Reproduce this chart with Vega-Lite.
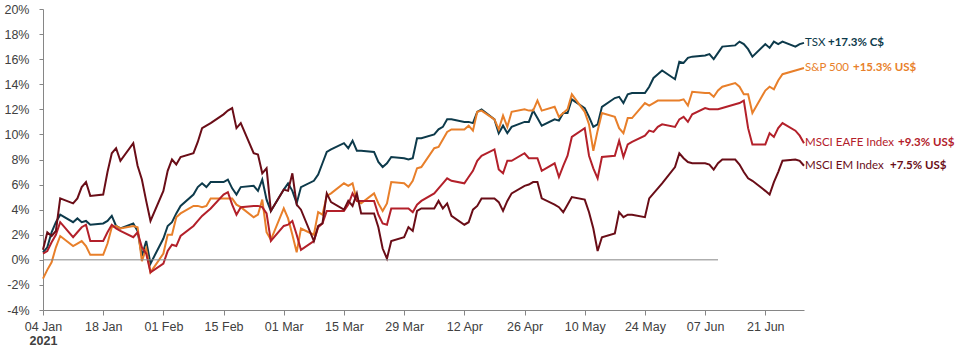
{
 "$schema": "https://vega.github.io/schema/vega-lite/v6.json",
 "width": 761, "height": 301,
 "autosize": {"type": "none"},
 "padding": {"left": 43, "top": 9, "right": 151, "bottom": 43},
 "background": "white",
 "config": {"view": {"stroke": null}, "font": "Liberation Sans", "axis": {"labelOverlap": false, "labelSeparation": 0}},
 "datasets": {
  "main": [
   {"d":"2021/01/04","T":0.6,"S":-1.5,"E":0.5,"M":0.8},
   {"d":"2021/01/05","T":1.0,"S":-0.8,"E":0.7,"M":2.2},
   {"d":"2021/01/06","T":2.2,"S":-0.2,"E":1.4,"M":1.9},
   {"d":"2021/01/07","T":3.0,"S":1.0,"E":2.0,"M":2.3},
   {"d":"2021/01/08","T":3.6,"S":1.9,"E":3.0,"M":4.9},
   {"d":"2021/01/11","T":3.0,"S":1.1,"E":1.8,"M":4.5},
   {"d":"2021/01/12","T":3.3,"S":1.3,"E":2.2,"M":4.9},
   {"d":"2021/01/13","T":3.0,"S":1.5,"E":2.6,"M":5.8},
   {"d":"2021/01/14","T":3.1,"S":1.1,"E":2.8,"M":6.2},
   {"d":"2021/01/15","T":2.8,"S":0.4,"E":1.5,"M":5.1},
   {"d":"2021/01/18","T":2.9,"S":0.4,"E":1.5,"M":5.2},
   {"d":"2021/01/19","T":3.1,"S":1.3,"E":2.2,"M":7.0},
   {"d":"2021/01/20","T":3.5,"S":2.6,"E":2.8,"M":8.5},
   {"d":"2021/01/21","T":2.7,"S":2.7,"E":2.5,"M":8.9},
   {"d":"2021/01/22","T":2.5,"S":2.5,"E":2.3,"M":7.9},
   {"d":"2021/01/25","T":2.9,"S":2.7,"E":1.8,"M":9.3},
   {"d":"2021/01/26","T":2.3,"S":2.6,"E":2.2,"M":7.5},
   {"d":"2021/01/27","T":0.3,"S":-0.1,"E":1.0,"M":6.4},
   {"d":"2021/01/28","T":1.5,"S":0.9,"E":0.5,"M":4.7},
   {"d":"2021/01/29","T":-0.3,"S":-1.0,"E":-1.0,"M":3.1},
   {"d":"2021/02/01","T":1.7,"S":0.5,"E":-0.3,"M":5.5},
   {"d":"2021/02/02","T":2.7,"S":2.0,"E":0.7,"M":7.1},
   {"d":"2021/02/03","T":3.0,"S":2.0,"E":1.2,"M":8.0},
   {"d":"2021/02/04","T":3.7,"S":3.4,"E":1.1,"M":7.6},
   {"d":"2021/02/05","T":4.3,"S":3.7,"E":1.9,"M":8.2},
   {"d":"2021/02/08","T":5.2,"S":4.3,"E":2.7,"M":8.5},
   {"d":"2021/02/09","T":5.8,"S":4.3,"E":3.1,"M":9.4},
   {"d":"2021/02/10","T":6.1,"S":4.2,"E":3.5,"M":10.5},
   {"d":"2021/02/11","T":5.8,"S":4.3,"E":3.8,"M":10.7},
   {"d":"2021/02/12","T":6.2,"S":4.9,"E":4.1,"M":10.9},
   {"d":"2021/02/15","T":6.2,"S":4.9,"E":5.2,"M":11.6},
   {"d":"2021/02/16","T":6.4,"S":4.9,"E":5.4,"M":11.9},
   {"d":"2021/02/17","T":5.7,"S":4.9,"E":4.4,"M":12.1},
   {"d":"2021/02/18","T":5.2,"S":4.4,"E":3.6,"M":10.5},
   {"d":"2021/02/19","T":5.8,"S":4.2,"E":4.2,"M":10.9},
   {"d":"2021/02/22","T":5.9,"S":3.4,"E":4.3,"M":8.5},
   {"d":"2021/02/23","T":5.5,"S":3.6,"E":4.3,"M":8.4},
   {"d":"2021/02/24","T":6.4,"S":4.8,"E":4.2,"M":6.9},
   {"d":"2021/02/25","T":4.8,"S":2.2,"E":3.7,"M":7.3},
   {"d":"2021/02/26","T":3.9,"S":1.6,"E":1.5,"M":3.9},
   {"d":"2021/03/01","T":5.6,"S":4.1,"E":2.7,"M":5.6},
   {"d":"2021/03/02","T":6.1,"S":3.3,"E":2.8,"M":5.5},
   {"d":"2021/03/03","T":5.5,"S":2.0,"E":3.1,"M":6.9},
   {"d":"2021/03/04","T":4.5,"S":0.6,"E":2.0,"M":4.4},
   {"d":"2021/03/05","T":5.8,"S":2.5,"E":0.8,"M":4.0},
   {"d":"2021/03/08","T":6.3,"S":2.0,"E":1.5,"M":1.5},
   {"d":"2021/03/09","T":6.8,"S":3.8,"E":2.6,"M":2.7},
   {"d":"2021/03/10","T":7.7,"S":3.6,"E":2.9,"M":2.9},
   {"d":"2021/03/11","T":8.6,"S":5.1,"E":3.9,"M":5.3},
   {"d":"2021/03/12","T":8.8,"S":5.3,"E":3.9,"M":4.6},
   {"d":"2021/03/15","T":9.3,"S":6.1,"E":3.9,"M":4.0},
   {"d":"2021/03/16","T":8.9,"S":5.9,"E":4.4,"M":4.7},
   {"d":"2021/03/17","T":9.5,"S":6.1,"E":5.3,"M":4.3},
   {"d":"2021/03/18","T":8.7,"S":4.7,"E":4.7,"M":5.3},
   {"d":"2021/03/19","T":8.7,"S":4.5,"E":4.7,"M":3.7},
   {"d":"2021/03/22","T":8.6,"S":5.3,"E":4.7,"M":3.7},
   {"d":"2021/03/23","T":7.8,"S":4.5,"E":3.6,"M":2.6},
   {"d":"2021/03/24","T":7.4,"S":3.9,"E":2.9,"M":0.9},
   {"d":"2021/03/25","T":7.7,"S":4.5,"E":2.8,"M":0.1},
   {"d":"2021/03/26","T":8.2,"S":6.2,"E":4.1,"M":1.5},
   {"d":"2021/03/29","T":8.1,"S":6.1,"E":4.1,"M":1.8},
   {"d":"2021/03/30","T":8.0,"S":5.8,"E":4.1,"M":2.6},
   {"d":"2021/03/31","T":8.1,"S":6.3,"E":3.8,"M":2.3},
   {"d":"2021/04/01","T":9.7,"S":7.3,"E":4.4,"M":3.9},
   {"d":"2021/04/02","T":9.7,"S":7.4,"E":4.7,"M":4.1},
   {"d":"2021/04/05","T":10.0,"S":8.9,"E":5.3,"M":4.1},
   {"d":"2021/04/06","T":10.4,"S":9.0,"E":5.7,"M":4.7},
   {"d":"2021/04/07","T":10.6,"S":9.6,"E":6.1,"M":4.1},
   {"d":"2021/04/08","T":11.2,"S":10.2,"E":6.5,"M":4.5},
   {"d":"2021/04/09","T":11.2,"S":10.4,"E":6.3,"M":3.5},
   {"d":"2021/04/12","T":11.0,"S":10.4,"E":6.1,"M":2.8},
   {"d":"2021/04/13","T":11.0,"S":10.7,"E":6.6,"M":3.0},
   {"d":"2021/04/14","T":10.9,"S":10.3,"E":7.1,"M":4.0},
   {"d":"2021/04/15","T":11.8,"S":11.8,"E":7.9,"M":4.3},
   {"d":"2021/04/16","T":12.0,"S":11.9,"E":8.3,"M":4.9},
   {"d":"2021/04/19","T":11.2,"S":11.2,"E":8.8,"M":4.9},
   {"d":"2021/04/20","T":10.1,"S":10.4,"E":7.2,"M":4.6},
   {"d":"2021/04/21","T":10.7,"S":11.5,"E":6.9,"M":3.9},
   {"d":"2021/04/22","T":10.1,"S":10.6,"E":7.9,"M":4.7},
   {"d":"2021/04/23","T":10.6,"S":11.8,"E":7.9,"M":5.3},
   {"d":"2021/04/26","T":11.0,"S":12.0,"E":8.5,"M":5.9},
   {"d":"2021/04/27","T":11.0,"S":11.9,"E":8.1,"M":6.0},
   {"d":"2021/04/28","T":11.9,"S":11.9,"E":8.1,"M":6.2},
   {"d":"2021/04/29","T":11.3,"S":12.7,"E":8.1,"M":6.2},
   {"d":"2021/04/30","T":10.7,"S":11.9,"E":7.1,"M":4.9},
   {"d":"2021/05/03","T":11.2,"S":12.2,"E":7.7,"M":4.4},
   {"d":"2021/05/04","T":11.1,"S":11.4,"E":6.6,"M":4.2},
   {"d":"2021/05/05","T":11.7,"S":11.7,"E":7.5,"M":3.8},
   {"d":"2021/05/06","T":11.7,"S":12.0,"E":8.3,"M":4.4},
   {"d":"2021/05/07","T":12.8,"S":13.2,"E":9.8,"M":5.0},
   {"d":"2021/05/10","T":12.1,"S":11.8,"E":10.5,"M":4.8},
   {"d":"2021/05/11","T":11.4,"S":10.8,"E":8.3,"M":3.8},
   {"d":"2021/05/12","T":10.6,"S":8.7,"E":7.3,"M":2.5},
   {"d":"2021/05/13","T":10.8,"S":10.3,"E":6.5,"M":0.7},
   {"d":"2021/05/14","T":12.2,"S":11.7,"E":8.2,"M":1.8},
   {"d":"2021/05/17","T":12.9,"S":11.4,"E":8.3,"M":2.1},
   {"d":"2021/05/18","T":13.0,"S":10.5,"E":9.5,"M":3.8},
   {"d":"2021/05/19","T":12.5,"S":10.1,"E":8.2,"M":3.4},
   {"d":"2021/05/20","T":13.2,"S":11.3,"E":9.2,"M":3.6},
   {"d":"2021/05/21","T":13.3,"S":11.3,"E":9.4,"M":3.6},
   {"d":"2021/05/24","T":13.3,"S":12.5,"E":9.9,"M":3.4},
   {"d":"2021/05/25","T":13.8,"S":12.3,"E":10.3,"M":4.9},
   {"d":"2021/05/26","T":14.5,"S":12.5,"E":10.2,"M":5.3},
   {"d":"2021/05/27","T":14.8,"S":12.7,"E":10.6,"M":5.7},
   {"d":"2021/05/28","T":15.1,"S":12.7,"E":10.8,"M":6.1},
   {"d":"2021/05/31","T":14.4,"S":12.7,"E":10.6,"M":7.4},
   {"d":"2021/06/01","T":15.8,"S":12.7,"E":11.2,"M":8.5},
   {"d":"2021/06/02","T":15.7,"S":12.8,"E":11.4,"M":8.1},
   {"d":"2021/06/03","T":16.1,"S":12.3,"E":11.0,"M":7.8},
   {"d":"2021/06/04","T":16.2,"S":13.4,"E":11.6,"M":7.7},
   {"d":"2021/06/07","T":16.3,"S":13.3,"E":12.1,"M":7.7},
   {"d":"2021/06/08","T":16.4,"S":13.3,"E":12.0,"M":7.6},
   {"d":"2021/06/09","T":16.0,"S":13.0,"E":12.0,"M":7.2},
   {"d":"2021/06/10","T":16.5,"S":13.5,"E":12.0,"M":7.7},
   {"d":"2021/06/11","T":17.0,"S":13.8,"E":12.1,"M":8.0},
   {"d":"2021/06/14","T":17.1,"S":14.1,"E":12.4,"M":8.0},
   {"d":"2021/06/15","T":17.4,"S":13.8,"E":12.5,"M":7.6},
   {"d":"2021/06/16","T":17.2,"S":13.2,"E":12.7,"M":7.0},
   {"d":"2021/06/17","T":16.8,"S":13.2,"E":10.5,"M":6.5},
   {"d":"2021/06/18","T":16.2,"S":11.7,"E":9.2,"M":6.3},
   {"d":"2021/06/21","T":17.2,"S":13.5,"E":9.2,"M":5.5},
   {"d":"2021/06/22","T":16.9,"S":13.8,"E":10.1,"M":5.2},
   {"d":"2021/06/23","T":17.4,"S":13.6,"E":9.8,"M":6.2},
   {"d":"2021/06/24","T":17.2,"S":14.3,"E":10.5,"M":7.0},
   {"d":"2021/06/25","T":17.4,"S":14.8,"E":10.9,"M":7.9},
   {"d":"2021/06/28","T":17.0,"S":15.1,"E":10.3,"M":8.0},
   {"d":"2021/06/29","T":17.2,"S":15.2,"E":9.9,"M":7.9},
   {"d":"2021/06/30","T":17.3,"S":15.3,"E":9.3,"M":7.5}
  ],
  "labels": [
   {"k":"T","d":"2021/06/30","v":17.3,"name":"TSX","ret":"+17.3% C$"},
   {"k":"S","d":"2021/06/30","v":15.3,"name":"S&P 500","ret":"+15.3% US$"},
   {"k":"E","d":"2021/06/30","v":9.3,"name":"MSCI EAFE Index","ret":"+9.3% US$"},
   {"k":"M","d":"2021/06/30","v":7.5,"name":"MSCI EM Index","ret":"+7.5% US$"}
  ]
 },
 "layer": [
  {
   "data": {"name": "main"},
   "transform": [{"fold": ["T", "S", "E", "M"], "as": ["k", "v"]}],
   "mark": {"type": "line", "strokeWidth": 2},
   "encoding": {
    "x": {
     "field": "d", "type": "temporal",
     "scale": {"domain": [{"year": 2021, "month": 1, "date": 4}, {"year": 2021, "month": 6, "date": 30}]},
     "axis": {
      "values": [
       {"year": 2021, "month": 1, "date": 4}, {"year": 2021, "month": 1, "date": 18},
       {"year": 2021, "month": 2, "date": 1}, {"year": 2021, "month": 2, "date": 15},
       {"year": 2021, "month": 3, "date": 1}, {"year": 2021, "month": 3, "date": 15},
       {"year": 2021, "month": 3, "date": 29}, {"year": 2021, "month": 4, "date": 12},
       {"year": 2021, "month": 4, "date": 26}, {"year": 2021, "month": 5, "date": 10},
       {"year": 2021, "month": 5, "date": 24}, {"year": 2021, "month": 6, "date": 7},
       {"year": 2021, "month": 6, "date": 21}
      ],
      "format": "%d %b",
      "grid": false,
      "domainColor": "#868686",
      "tickColor": "#868686",
      "tickSize": 5,
      "labelPadding": 5,
      "labelFontSize": 12.5,
      "labelColor": "#404040",
      "labelFlush": false,
      "title": "2021",
      "titleFontSize": 12.5,
      "titleFontWeight": "bold",
      "titleColor": "#404040",
      "titleAnchor": "start",
      "titleAlign": "center",
      "titlePadding": 2
     }
    },
    "y": {
     "field": "v", "type": "quantitative",
     "scale": {"domain": [-4, 20], "nice": false, "zero": false},
     "axis": {
      "values": [-4, -2, 0, 2, 4, 6, 8, 10, 12, 14, 16, 18, 20],
      "tickCount": 13,
      "labelExpr": "datum.value + '%'",
      "grid": false,
      "domainColor": "#868686",
      "tickColor": "#868686",
      "tickSize": 4,
      "labelPadding": 10,
      "labelFontSize": 12.5,
      "labelColor": "#404040",
      "labelFlush": false,
      "title": null
     }
    },
    "color": {
     "field": "k", "type": "nominal",
     "scale": {"domain": ["T", "S", "E", "M"], "range": ["#0D3A4B", "#E87F2A", "#B3202A", "#6A0D17"]},
     "legend": null
    }
   }
  },
  {
   "data": {"values": [{"a": "2021/01/04", "b": "2021/06/10"}]},
   "mark": {"type": "rule", "color": "#868686", "strokeWidth": 1},
   "encoding": {
    "x": {"field": "a", "type": "temporal"},
    "x2": {"field": "b"},
    "y": {"datum": 0, "type": "quantitative"}
   }
  },
  {
   "data": {"name": "labels"},
   "mark": {"type": "text", "align": "left", "baseline": "middle", "dx": 1, "fontSize": 11.5, "font": "Lato"},
   "encoding": {
    "x": {"field": "d", "type": "temporal"},
    "y": {"field": "v", "type": "quantitative"},
    "text": {"field": "name"},
    "color": {"field": "k", "type": "nominal", "legend": null}
   }
  },
  {
   "data": {"name": "labels"},
   "transform": [{"filter": "datum.k === 'T'"}],
   "mark": {"type": "text", "align": "left", "baseline": "middle", "dx": 24, "fontSize": 11.5, "fontWeight": "bold", "font": "Lato"},
   "encoding": {
    "x": {"field": "d", "type": "temporal"},
    "y": {"field": "v", "type": "quantitative"},
    "text": {"field": "ret"},
    "color": {"field": "k", "type": "nominal", "legend": null}
   }
  },
  {
   "data": {"name": "labels"},
   "transform": [{"filter": "datum.k === 'S'"}],
   "mark": {"type": "text", "align": "left", "baseline": "middle", "dx": 49, "fontSize": 11.5, "fontWeight": "bold", "font": "Lato"},
   "encoding": {
    "x": {"field": "d", "type": "temporal"},
    "y": {"field": "v", "type": "quantitative"},
    "text": {"field": "ret"},
    "color": {"field": "k", "type": "nominal", "legend": null}
   }
  },
  {
   "data": {"name": "labels"},
   "transform": [{"filter": "datum.k === 'E'"}],
   "mark": {"type": "text", "align": "left", "baseline": "middle", "dx": 94, "fontSize": 11.5, "fontWeight": "bold", "font": "Lato"},
   "encoding": {
    "x": {"field": "d", "type": "temporal"},
    "y": {"field": "v", "type": "quantitative"},
    "text": {"field": "ret"},
    "color": {"field": "k", "type": "nominal", "legend": null}
   }
  },
  {
   "data": {"name": "labels"},
   "transform": [{"filter": "datum.k === 'M'"}],
   "mark": {"type": "text", "align": "left", "baseline": "middle", "dx": 86, "fontSize": 11.5, "fontWeight": "bold", "font": "Lato"},
   "encoding": {
    "x": {"field": "d", "type": "temporal"},
    "y": {"field": "v", "type": "quantitative"},
    "text": {"field": "ret"},
    "color": {"field": "k", "type": "nominal", "legend": null}
   }
  }
 ]
}
